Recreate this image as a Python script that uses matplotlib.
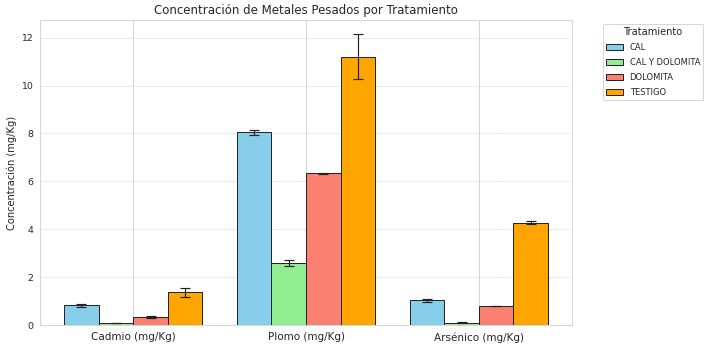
import matplotlib
matplotlib.use("Agg")
import matplotlib.pyplot as plt
import numpy as np
import seaborn as sns

metales = ["Cadmio (mg/Kg)", "Plomo (mg/Kg)", "Arsénico (mg/Kg)"]
tratamientos = ["CAL", "CAL Y DOLOMITA", "DOLOMITA", "TESTIGO"]
colores = ["skyblue", "lightgreen", "salmon", "orange"]

# media por tratamiento (una lista por tratamiento, en el orden de metales)
cal = [0.83, 8.05, 1.03]
calDolomita = [0.08, 2.60, 0.10]
dolomita = [0.33, 6.33, 0.80]
testigo = [1.37, 11.20, 4.28]

# desviaciones
calErr = [0.07, 0.11, 0.05]
calDolomitaErr = [0.01, 0.12, 0.02]
dolomitaErr = [0.05, 0.02, 0.02]
testigoErr = [0.20, 0.93, 0.05]

medias = [cal, calDolomita, dolomita, testigo]
errores = [calErr, calDolomitaErr, dolomitaErr, testigoErr]

sns.set_style("whitegrid")
plt.rcParams["font.family"] = ["DejaVu Sans"]

fig, ax = plt.subplots(figsize=(10, 350 / 70.8), dpi=70.8)

x = np.arange(len(metales))
width = 0.2
for i, (trat, color) in enumerate(zip(tratamientos, colores)):
    offset = (i - 1.5) * width
    ax.bar(x + offset, medias[i], width, yerr=errores[i], capsize=5,
           color=color, edgecolor="#222222", linewidth=1.0, label=trat,
           error_kw={"elinewidth": 1.2, "ecolor": "#222222", "capthick": 1.2})

ax.set_xticks(x)
ax.set_xticklabels(metales, fontsize=10.5)
ax.tick_params(axis="y", labelsize=9.5)
ax.set_ylabel("Concentración (mg/Kg)", fontsize=10, color="#222222")
ax.set_title("Concentración de Metales Pesados por Tratamiento", fontsize=12)
ax.grid(axis="y", linestyle="--", alpha=0.7)
ax.legend(title="Tratamiento", bbox_to_anchor=(1.05, 1), loc="upper left",
          fontsize=8.5, title_fontsize=10, labelspacing=0.7)

fig.subplots_adjust(left=0.0565, right=0.808, top=0.943, bottom=0.071)
fig.savefig("out.png", dpi=70.8)
